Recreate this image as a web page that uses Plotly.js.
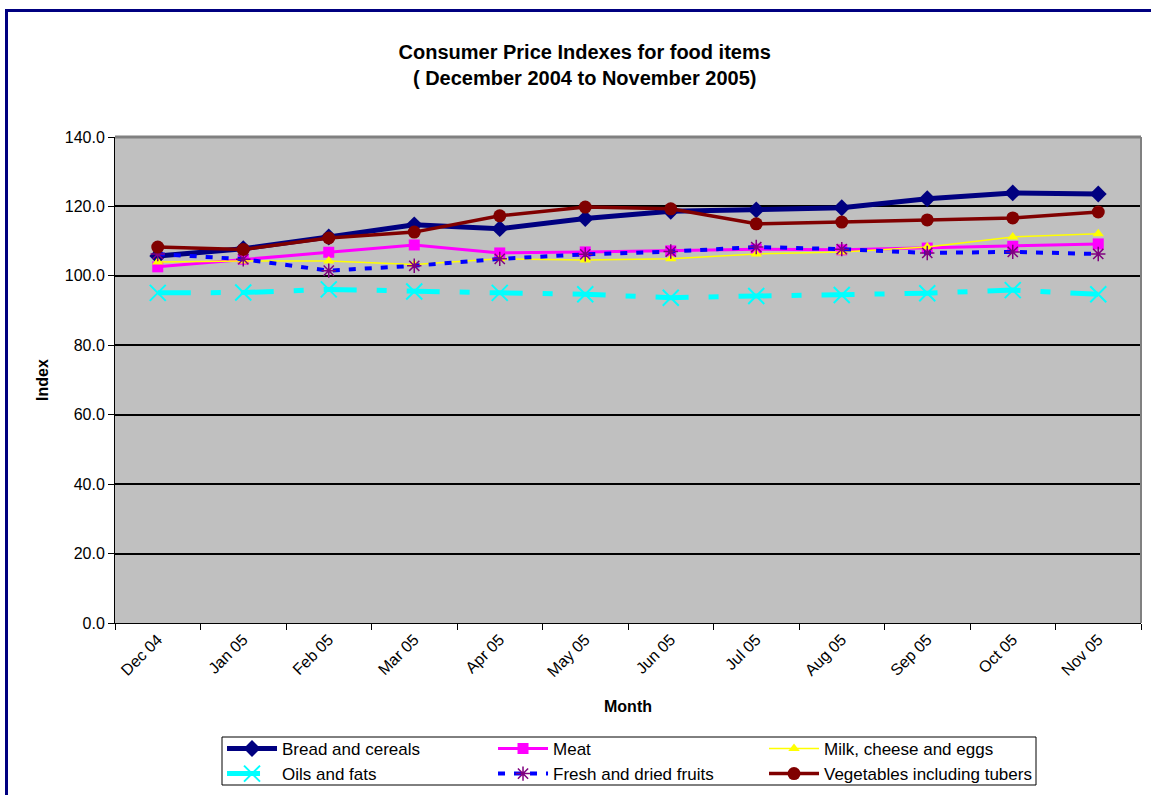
<!DOCTYPE html>
<html>
<head>
<meta charset="utf-8">
<script src="https://cdn.plot.ly/plotly-3.0.1.min.js"></script>
<style>
html,body{margin:0;padding:0;background:#fff;}
#chart{width:1151px;height:795px;}
</style>
</head>
<body>
<div id="chart"></div>
<script>
const months = ["Dec 04","Jan 05","Feb 05","Mar 05","Apr 05","May 05","Jun 05","Jul 05","Aug 05","Sep 05","Oct 05","Nov 05"];
const breadCereals = [105.7,107.8,111.2,114.7,113.6,116.5,118.6,119.0,119.6,122.2,123.9,123.6];
const meat        = [102.6,104.8,106.8,108.9,106.6,106.9,107.2,107.7,107.5,108.0,108.5,109.2];
const milkCheeseEggs = [104.0,104.3,104.3,103.3,104.9,104.6,104.9,106.3,106.9,108.3,111.2,112.1];
const oilsFats    = [95.1,95.2,96.1,95.5,95.1,94.7,93.7,94.2,94.5,95.0,95.9,94.7];
const fruits      = [106.3,104.8,101.5,102.9,104.9,106.2,107.0,108.3,107.7,106.6,106.9,106.3];
const vegetables  = [108.3,107.6,110.9,112.6,117.3,119.8,119.3,115.0,115.5,116.1,116.7,118.4];
const seriesNames = ["Bread and cereals","Meat","Milk, cheese and eggs","Oils and fats","Fresh and dried fruits","Vegetables including tubers"];
const yTicks = [0,20,40,60,80,100,120,140];

const FONT = "Liberation Sans, Arial, sans-serif";

const traces = [
  {x: months, y: breadCereals, name: seriesNames[0], mode: "lines+markers",
   line: {color: "#000080", width: 5},
   marker: {symbol: "diamond", size: 13, color: "#000080"}},
  {x: months, y: meat, name: seriesNames[1], mode: "lines+markers",
   line: {color: "#FF00FF", width: 3},
   marker: {symbol: "square", size: 11, color: "#FF00FF"}},
  {x: months, y: milkCheeseEggs, name: seriesNames[2], mode: "lines+markers",
   line: {color: "#FFFF00", width: 1.5},
   marker: {symbol: "triangle-up", size: 10, color: "#FFFF00"}},
  {x: months, y: oilsFats, name: seriesNames[3], mode: "lines+markers",
   line: {color: "#00FFFF", width: 5, dash: "33px,20px,10px,20px"},
   marker: {symbol: "x-thin-open", size: 16, color: "#00FFFF", line: {color: "#00FFFF", width: 2}}},
  {x: months, y: fruits, name: seriesNames[4], mode: "lines+markers",
   line: {color: "#0000FF", width: 4, dash: "7px,9px"},
   marker: {symbol: "asterisk-open", size: 12, color: "#800080", line: {color: "#800080", width: 1.5}}},
  {x: months, y: vegetables, name: seriesNames[5], mode: "lines+markers",
   line: {color: "#800000", width: 3.5},
   marker: {symbol: "circle", size: 13, color: "#800000"}}
];

const layout = {
  width: 1151, height: 795,
  margin: {l: 115, r: 10, t: 137, b: 172, autoexpand: false},
  paper_bgcolor: "#FFFFFF",
  plot_bgcolor: "#C0C0C0",
  font: {family: FONT, size: 16, color: "#000"},
  title: {
    text: "<b>Consumer Price Indexes for food items<br>( December 2004 to November 2005)</b>",
    font: {family: FONT, size: 20, color: "#000"},
    x: 0.508, xref: "container", xanchor: "center",
    y: 0.926, yref: "container", yanchor: "middle"
  },
  xaxis: {
    type: "category",
    categoryorder: "array", categoryarray: months,
    tickson: "boundaries",
    ticks: "outside", ticklen: 6, tickcolor: "#000", tickwidth: 1,
    tickangle: -45,
    tickfont: {family: FONT, size: 16},
    showline: true, linecolor: "#000", linewidth: 1,
    showgrid: false, zeroline: false,
    range: [-0.5, 11.5],
    automargin: false,
    title: {text: "<b>Month</b>", font: {family: FONT, size: 16}, standoff: 21}
  },
  yaxis: {
    range: [0, 140],
    tickvals: yTicks,
    tickformat: ".1f",
    ticks: "outside", ticklen: 6, tickcolor: "#000", tickwidth: 1,
    tickfont: {family: FONT, size: 16},
    showline: true, linecolor: "#000", linewidth: 1,
    showgrid: true, gridcolor: "#000", gridwidth: 2,
    zeroline: false,
    automargin: false,
    title: {text: "<b>Index</b>", font: {family: FONT, size: 16}, standoff: 12}
  },
  showlegend: true,
  legend: {
    orientation: "h",
    x: 0.1043, xanchor: "left",
    y: -0.2221, yanchor: "top",
    bgcolor: "rgba(0,0,0,0)",
    borderwidth: 0,
    font: {family: FONT, size: 17, color: "#000"},
    itemwidth: 50,
    entrywidth: 206,
    traceorder: "normal"
  },
  shapes: [
    // legend box
    {type: "rect", xref: "paper", yref: "paper", xsizemode: "pixel", xanchor: 0, ysizemode: "pixel", yanchor: 0,
     x0: 107, x1: 921, y0: -114, y1: -162, line: {color: "#000", width: 1}, fillcolor: "#FFFFFF", layer: "below"},
    // plot area top/right border
    {type: "line", xref: "paper", yref: "paper", x0: 0, x1: 1, y0: 1, y1: 1, line: {color: "#808080", width: 3}, layer: "above"},
    {type: "line", xref: "paper", yref: "paper", x0: 1, x1: 1, y0: 0, y1: 1, line: {color: "#808080", width: 2}, layer: "above"},
    // outer chart frame (navy)
    {type: "line", xref: "paper", yref: "paper", xsizemode: "pixel", xanchor: 0, ysizemode: "pixel", yanchor: 1,
     x0: -108.5, x1: -108.5, y0: 128, y1: -660, line: {color: "#000080", width: 3}},
    {type: "line", xref: "paper", yref: "paper", xsizemode: "pixel", xanchor: 0, ysizemode: "pixel", yanchor: 1,
     x0: -110, x1: 1050, y0: 126.5, y1: 126.5, line: {color: "#000080", width: 3}}
  ]
};

Plotly.newPlot("chart", traces, layout, {displayModeBar: false, staticPlot: true});
</script>
</body>
</html>
